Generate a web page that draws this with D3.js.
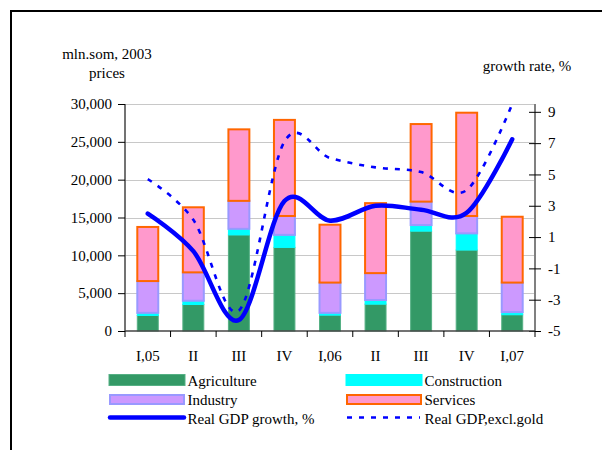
<!DOCTYPE html>
<html><head><meta charset="utf-8">
<script src="https://cdn.jsdelivr.net/npm/d3@7"></script>
<style>html,body{margin:0;padding:0;background:#fff;}svg{display:block;}</style>
</head><body>
<svg id="c" width="604" height="450"></svg>
<script>
const categories = ["I,05","II","III","IV","I,06","II","III","IV","I,07"];
const agriculture  = [2050, 3500, 12700, 11050, 2100, 3550, 13200, 10700, 2150];
const construction = [ 350,  500,   800,  1650,  300,  550,   800,  2200,  350];
const industry     = [4200, 3750,  3700,  2500, 4000, 3550,  3100,  2300, 3900];
const services     = [7150, 8600,  9450, 12700, 7650, 9250, 10250, 13650, 8700];
const gdpGrowth    = [2.5, 0.1, -4.3, 3.3, 2.05, 3.0, 2.75, 2.55, 7.25];
const gdpExclGold  = [4.7, 2.1, -3.7, 7.1, 6.05, 5.45, 5.15, 4.0, 9.5];
const leftTicks  = [0, 5000, 10000, 15000, 20000, 25000, 30000];
const rightTicks = [-5, -3, -1, 1, 3, 5, 7, 9];

const seriesNames = ["Agriculture","Construction","Industry","Services"];
const seriesData = [agriculture, construction, industry, services];
const fills   = ["#339966","#00FFFF","#CC99FF","#FF99CC"];
const strokes = ["#55b084","#00FFFF","#9999FF","#FF6600"];
const strokeW = [1, 1, 2, 2];

const svg = d3.select("#c");
const FONT = "'Liberation Serif','Times New Roman',serif";

const x = d3.scaleBand().domain(d3.range(categories.length)).range([125, 535])
  .paddingInner(0.54).paddingOuter(0.27);
const yL = d3.scaleLinear().domain([0, 30000]).range([331, 104]);
const yR = d3.scaleLinear().domain([-5, 9.5]).range([331, 104]);

// frame
svg.append("line").attr("x1",10).attr("x2",602).attr("y1",11).attr("y2",11).attr("stroke","#000").attr("stroke-width",2);
svg.append("line").attr("x1",11).attr("x2",11).attr("y1",10).attr("y2",450).attr("stroke","#000").attr("stroke-width",2);

// gridlines
svg.append("g").selectAll("line").data(leftTicks.filter(d=>d>0)).join("line")
  .attr("x1",125).attr("x2",535).attr("y1",d=>Math.round(yL(d))+0.5).attr("y2",d=>Math.round(yL(d))+0.5)
  .attr("stroke","#c8c8c8").attr("stroke-width",1);

// stacked bars
const rows = categories.map((c,i)=>{const o={i}; seriesNames.forEach((s,k)=>o[s]=seriesData[k][i]); return o;});
const stack = d3.stack().keys(seriesNames)(rows);
stack.forEach((layer,k)=>{
  svg.append("g").selectAll("rect").data(layer).join("rect")
    .attr("x", d=>x(d.data.i))
    .attr("width", x.bandwidth())
    .attr("y", d=>yL(d[1]))
    .attr("height", d=>yL(d[0])-yL(d[1]))
    .attr("fill", fills[k])
    .attr("stroke", strokes[k])
    .attr("stroke-width", strokeW[k]);
});

// lines
const cx = i => x(i) + x.bandwidth()/2;
const line = d3.line().x((d,i)=>cx(i)).y(d=>yR(d)).curve(d3.curveCardinal.tension(0));
svg.append("path").attr("d", line(gdpExclGold)).attr("fill","none").attr("stroke","#0000FF")
  .attr("stroke-width",2.6).attr("stroke-dasharray","5,7");
svg.append("path").attr("d", line(gdpGrowth)).attr("fill","none").attr("stroke","#0000FF")
  .attr("stroke-width",4.5).attr("stroke-linecap","round");

// axes
const axL = svg.append("g").attr("transform","translate(125,0)")
  .call(d3.axisLeft(yL).tickValues(leftTicks).tickSize(7).tickFormat(d3.format(",")));
const axR = svg.append("g").attr("transform","translate(535,0)")
  .call(d3.axisRight(yR).tickValues(rightTicks).tickSize(6).tickFormat(d=>d));
const axX = svg.append("g").attr("transform","translate(0,331)")
  .call(d3.axisBottom(x).tickValues([]).tickSizeOuter(0));
[axL, axR, axX].forEach(a=>{
  a.selectAll("text").attr("font-family",FONT).attr("font-size",15).attr("fill","#000");
  a.selectAll(".tick line").attr("stroke","#000");
});
axL.select(".domain").attr("stroke","#444").attr("stroke-width",1.5).attr("d","M0,104V331");
axR.select(".domain").attr("stroke","#808080").attr("stroke-width",2).attr("d","M0,104V331");
axR.selectAll(".tick line").attr("x1",-6).attr("x2",6);
axR.selectAll(".tick text").attr("x",13);
axL.selectAll(".tick text").attr("x",-13);
axX.select(".domain").attr("stroke","#444").attr("stroke-width",1.5).attr("d","M125,0H535");
// category boundary ticks
const bounds = d3.range(categories.length+1).map(i=>125 + i*x.step()*1);
svg.append("g").selectAll("line").data(d3.range(categories.length+1)).join("line")
  .attr("x1",i=>x(0)-x.step()*0.27-0+ i*x.step()).attr("x2",i=>x(0)-x.step()*0.27+i*x.step())
  .attr("y1",331).attr("y2",337).attr("stroke","#000").attr("stroke-width",1);
// category labels
svg.append("g").selectAll("text").data(categories).join("text")
  .attr("x",(d,i)=>cx(i)).attr("y",361).attr("text-anchor","middle")
  .attr("font-family",FONT).attr("font-size",15).text(d=>d);

// axis titles
svg.append("text").attr("x",107).attr("y",59).attr("text-anchor","middle")
  .attr("font-family",FONT).attr("font-size",15).text("mln.som, 2003");
svg.append("text").attr("x",107).attr("y",78).attr("text-anchor","middle")
  .attr("font-family",FONT).attr("font-size",15).text("prices");
svg.append("text").attr("x",527).attr("y",71).attr("text-anchor","middle")
  .attr("font-family",FONT).attr("font-size",15).text("growth rate, %");

// legend
const legendItems = [
  {name:"Agriculture", type:"rect", k:0, col:0, row:0},
  {name:"Construction", type:"rect", k:1, col:1, row:0},
  {name:"Industry", type:"rect", k:2, col:0, row:1},
  {name:"Services", type:"rect", k:3, col:1, row:1},
  {name:"Real GDP growth, %", type:"solid", col:0, row:2},
  {name:"Real GDP,excl.gold", type:"dash", col:1, row:2}
];
const colX = [109, 346], rowY = [380, 399.5, 418];
const lg = svg.append("g");
legendItems.forEach(it=>{
  const x0 = colX[it.col], y0 = rowY[it.row];
  if (it.type==="rect") {
    const sw = strokeW[it.k];
    lg.append("rect").attr("x",x0+(sw>1?1:0)).attr("y",y0-5.5+(sw>1?1:0))
      .attr("width",76-(sw>1?2:0)).attr("height",11-(sw>1?2:0))
      .attr("fill",fills[it.k]).attr("stroke",strokes[it.k]).attr("stroke-width",sw);
  } else if (it.type==="solid") {
    lg.append("line").attr("x1",x0+1).attr("x2",x0+75).attr("y1",y0-0.5).attr("y2",y0-0.5)
      .attr("stroke","#0000FF").attr("stroke-width",4.5).attr("stroke-linecap","round");
  } else {
    lg.append("line").attr("x1",x0+1).attr("x2",x0+74).attr("y1",y0-0.5).attr("y2",y0-0.5)
      .attr("stroke","#0000FF").attr("stroke-width",2.6).attr("stroke-dasharray","5,7");
  }
  lg.append("text").attr("x",x0+78.5).attr("y",y0+5.5)
    .attr("font-family",FONT).attr("font-size",15).text(it.name);
});
</script>
</body></html>
